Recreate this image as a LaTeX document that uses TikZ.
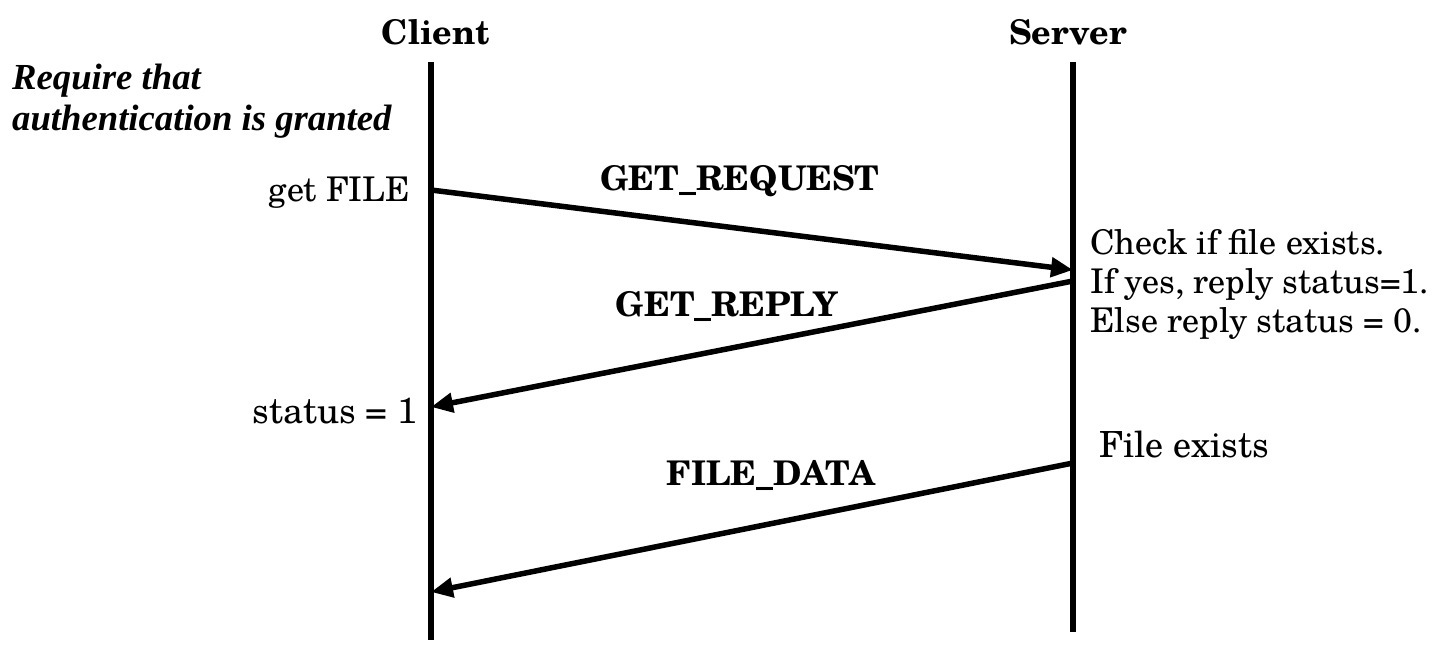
\documentclass[tikz,border=0pt]{standalone}
\usepackage{fontspec}
\setmainfont{texgyreschola}[Extension=.otf,UprightFont=*-regular,BoldFont=*-bold,ItalicFont=*-italic,BoldItalicFont=*-bolditalic]
\newfontfamily\notefont{Liberation Serif}
\usetikzlibrary{arrows.meta}
\begin{document}
\begin{tikzpicture}[x=1pt,y=-1pt,
  lifeline/.style={line width=5.5pt},
  msg/.style={line width=5.5pt,-{Triangle[length=22pt,width=19pt]}},
  txt/.style={inner sep=0pt,font=\fontsize{34}{39}\selectfont},
  wtxt/.style={inner sep=0pt,font=\fontsize{36}{39}\selectfont},
  head/.style={inner sep=0pt,font=\fontsize{34}{39}\selectfont\bfseries},
  note/.style={inner sep=0pt,font=\notefont\fontsize{36.7}{41}\selectfont\bfseries\itshape,align=left}]
\useasboundingbox (0,0) rectangle (1438,668);
% lifelines
\coordinate (cTop) at (431,62);
\coordinate (cBot) at (431,640);
\coordinate (sTop) at (1073,62);
\coordinate (sBot) at (1073,632);
\draw[lifeline] (cTop) -- (cBot);
\draw[lifeline] (sTop) -- (sBot);
% headers
\node[head,anchor=base] (client) at (436,45) {Client};
\node[head,anchor=base] (server) at (1068,45) {Server};
% note
\node[note,anchor=north west] (req) at (12,64) {Require that\\authentication is granted};
% message endpoints
\coordinate (c1) at (431,190);
\coordinate (s1) at (1073,270);
\coordinate (s2) at (1073,281);
\coordinate (c2) at (431,407);
\coordinate (s3) at (1073,463);
\coordinate (c3) at (431,592);
\draw[msg] (c1) -- (s1);
\draw[msg] (s2) -- (c2);
\draw[msg] (s3) -- (c3);
% labels
\node[txt,anchor=base east] (get) at (410,202) {get FILE};
\node[head,anchor=base] (greq) at (740,191) {GET\_REQUEST};
\node[head,anchor=base] (grep) at (727,317) {GET\_REPLY};
\node[wtxt,anchor=base east] (stat) at (418,423) {status = 1};
\node[head,anchor=base] (fdata) at (771,485) {FILE\_DATA};
\node[txt,anchor=north west,align=left] (check) at (1090,229) {Check if file exists.\\If yes, reply status=1.\\Else reply status = 0.};
\node[wtxt,anchor=base west] (exists) at (1099,457) {File exists};
\end{tikzpicture}
\end{document}
